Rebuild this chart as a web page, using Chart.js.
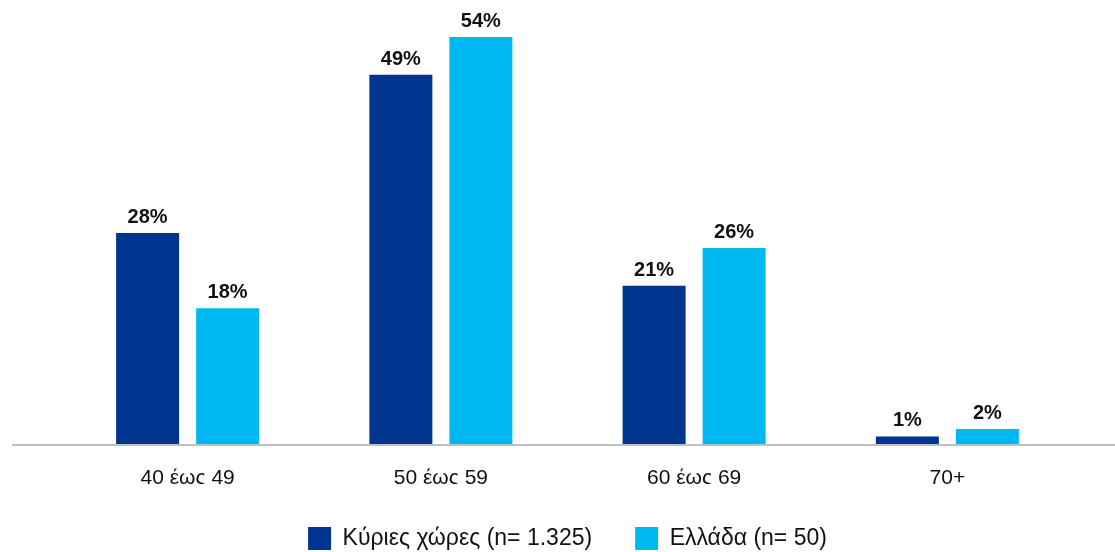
<!DOCTYPE html>
<html>
<head>
<meta charset="utf-8">
<script src="https://cdn.jsdelivr.net/npm/chart.js@4.4.1/dist/chart.umd.min.js"></script>
<style>
  html, body { margin: 0; padding: 0; background: #fff; }
  #wrap { position: relative; width: 1115px; height: 552px; }
</style>
</head>
<body>
<div id="wrap"><canvas id="ageChart"></canvas></div>
<script>
const categories = ["40 έως 49", "50 έως 59", "60 έως 69", "70+"];
const seriesNames = ["Κύριες χώρες (n= 1.325)", "Ελλάδα (n= 50)"];
const mainCountries = [28, 49, 21, 1];
const greece = [18, 54, 26, 2];

const darkBlue = "#00358F";
const lightBlue = "#00B8F1";
const fontFamily = "'Liberation Sans', Arial, Helvetica, sans-serif";
const axisLeft = 12;

// value labels above bars
const barLabels = {
  id: "barLabels",
  afterDatasetsDraw(chart) {
    const ctx = chart.ctx;
    ctx.save();
    ctx.font = "bold 20px " + fontFamily;
    ctx.fillStyle = "#111";
    ctx.textAlign = "center";
    ctx.textBaseline = "alphabetic";
    chart.data.datasets.forEach((ds, i) => {
      chart.getDatasetMeta(i).data.forEach((bar, j) => {
        ctx.fillText(ds.data[j] + "%", bar.x, bar.y - 10);
      });
    });
    ctx.restore();
  }
};

// grey baseline across the full width
const baseLine = {
  id: "baseLine",
  afterDatasetsDraw(chart) {
    const ctx = chart.ctx;
    const y = chart.scales.y.getPixelForValue(0) + 1;
    ctx.save();
    ctx.strokeStyle = "#BFBFBF";
    ctx.lineWidth = 2;
    ctx.beginPath();
    ctx.moveTo(axisLeft, y);
    ctx.lineTo(chart.width, y);
    ctx.stroke();
    ctx.restore();
  }
};

// pull the legend a bit lower
const legendShift = {
  id: "legendShift",
  afterInit(chart) {
    const lg = chart.legend;
    if (!lg) return;
    const fit = lg.fit;
    lg.fit = function () {
      fit.call(this);
      this.height -= 8;
    };
  }
};

const ctx = document.getElementById("ageChart").getContext("2d");
new Chart(ctx, {
  type: "bar",
  data: {
    labels: categories,
    datasets: [
      {
        label: seriesNames[0],
        data: mainCountries,
        backgroundColor: darkBlue,
        categoryPercentage: 0.632,
        barPercentage: 0.7875
      },
      {
        label: seriesNames[1],
        data: greece,
        backgroundColor: lightBlue,
        categoryPercentage: 0.632,
        barPercentage: 0.7875
      }
    ]
  },
  options: {
    responsive: true,
    maintainAspectRatio: false,
    animation: false,
    layout: {
      padding: { left: 61, right: 41, top: 22, bottom: 0 }
    },
    plugins: {
      legend: {
        position: "bottom",
        labels: {
          boxWidth: 23,
          boxHeight: 23,
          padding: 43,
          color: "#111",
          font: { family: fontFamily, size: 23 }
        }
      },
      tooltip: { enabled: false }
    },
    scales: {
      x: {
        grid: { display: false, drawTicks: false },
        border: { display: false },
        ticks: {
          padding: 22,
          color: "#111",
          font: { family: fontFamily, size: 21 }
        },
        afterFit(scale) {
          scale.height = 40;
        }
      },
      y: {
        display: false,
        min: 0,
        max: 56
      }
    }
  },
  plugins: [barLabels, baseLine, legendShift]
});
</script>
</body>
</html>
